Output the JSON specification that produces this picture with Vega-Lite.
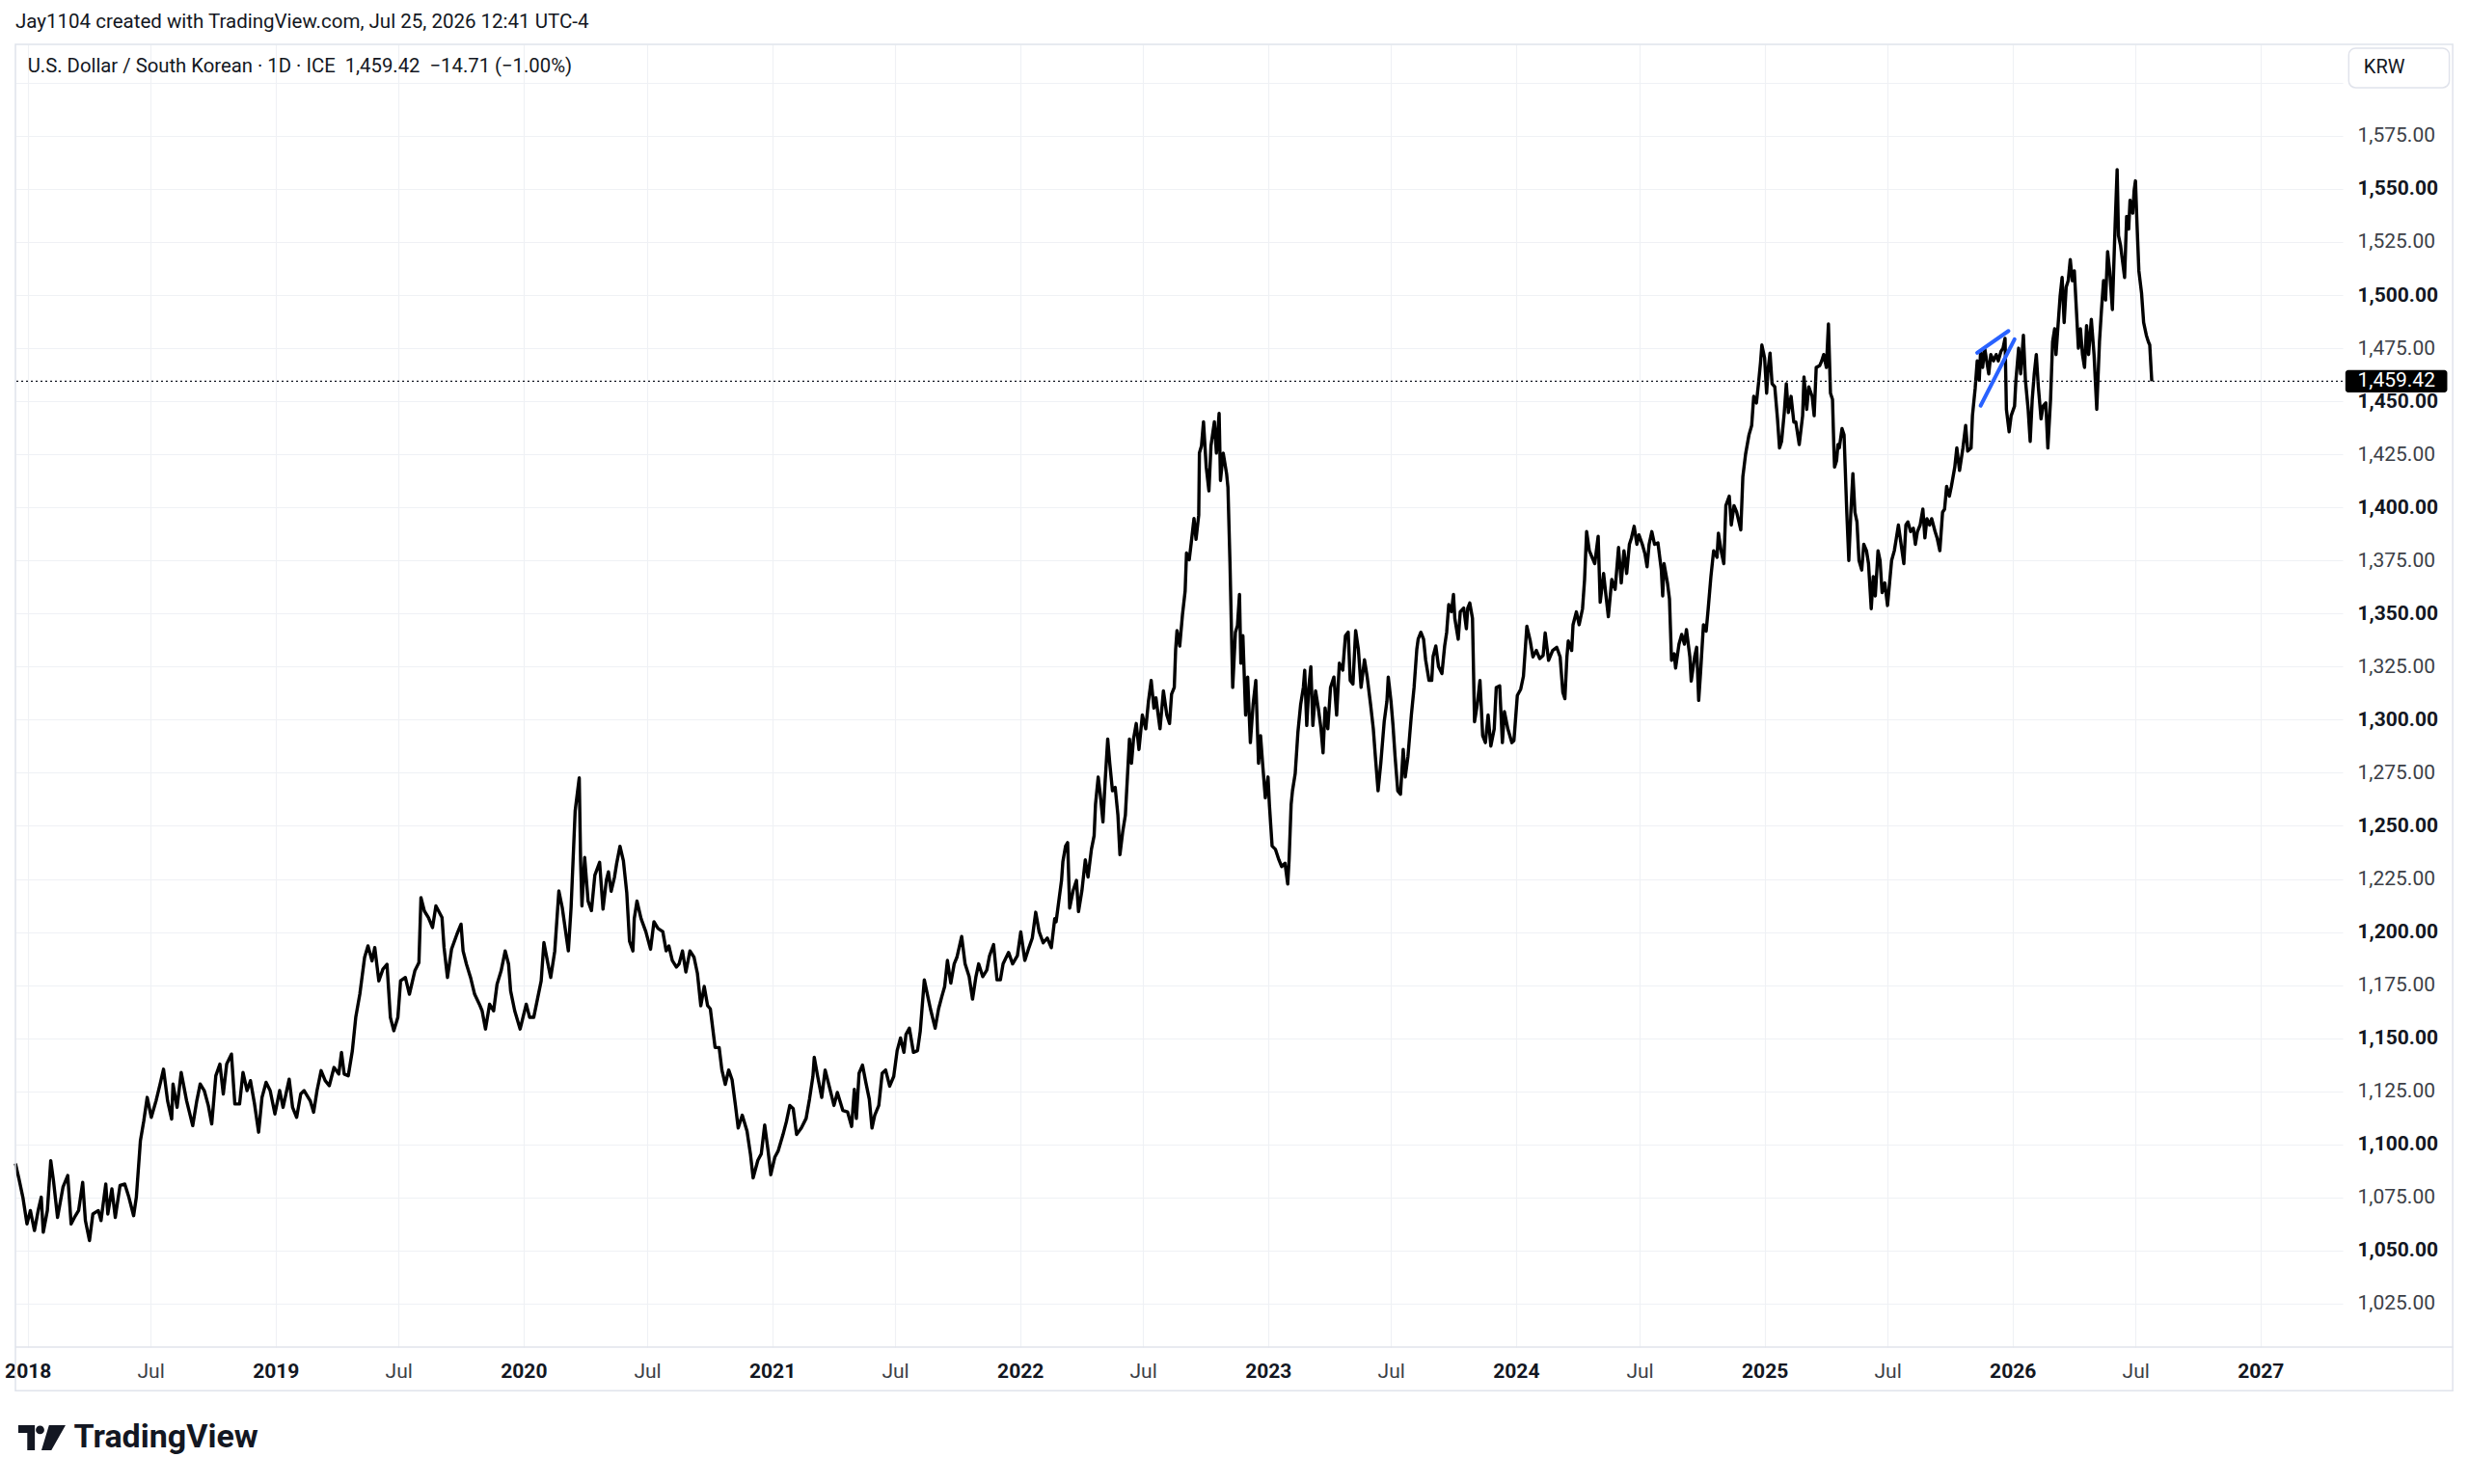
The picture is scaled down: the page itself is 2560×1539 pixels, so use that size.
{
  "$schema": "https://vega.github.io/schema/vega-lite/v6.json",
  "width": 2413,
  "height": 1351,
  "autosize": {"type": "none"},
  "padding": {"left": 16, "top": 46, "right": 131, "bottom": 142},
  "background": "white",
  "title": {
    "text": "Jay1104 created with TradingView.com, Jul 25, 2026 12:41 UTC-4",
    "anchor": "start",
    "frame": "group",
    "font": "Roboto",
    "fontSize": 20.5,
    "fontWeight": "normal",
    "color": "#131722",
    "offset": 12
  },
  "config": {
    "view": {"stroke": null},
    "font": "Roboto"
  },
  "datasets": {
    "fx": [
      {"d":"2017-12-14","v":1091},{"d":"2017-12-19","v":1084},{"d":"2017-12-25","v":1075},{"d":"2017-12-31","v":1062.5},
      {"d":"2018-01-05","v":1068.8},{"d":"2018-01-11","v":1059.4},{"d":"2018-01-17","v":1069.6},{"d":"2018-01-21","v":1075.1},
      {"d":"2018-01-24","v":1058.6},{"d":"2018-01-30","v":1068.8},{"d":"2018-02-04","v":1092.3},{"d":"2018-02-08","v":1082.9},
      {"d":"2018-02-14","v":1065.6},{"d":"2018-02-22","v":1079.8},{"d":"2018-03-01","v":1085.3},{"d":"2018-03-06","v":1062.5},
      {"d":"2018-03-11","v":1065.6},{"d":"2018-03-17","v":1068.8},{"d":"2018-03-23","v":1082.1},{"d":"2018-03-27","v":1064.1},
      {"d":"2018-04-02","v":1054.7},{"d":"2018-04-07","v":1067.2},{"d":"2018-04-15","v":1068.8},{"d":"2018-04-19","v":1064.1},
      {"d":"2018-04-26","v":1081.3},{"d":"2018-04-29","v":1067.2},{"d":"2018-05-05","v":1079},{"d":"2018-05-10","v":1065.6},
      {"d":"2018-05-17","v":1080.6},{"d":"2018-05-24","v":1081.3},{"d":"2018-05-30","v":1075.1},{"d":"2018-06-06","v":1066.4},
      {"d":"2018-06-10","v":1075.1},{"d":"2018-06-16","v":1101.7},{"d":"2018-06-21","v":1111.1},{"d":"2018-06-26","v":1122.1},
      {"d":"2018-07-02","v":1112.7},{"d":"2018-07-09","v":1120.5},{"d":"2018-07-15","v":1128.4},{"d":"2018-07-20","v":1135.4},
      {"d":"2018-07-26","v":1120.5},{"d":"2018-08-01","v":1111.9},{"d":"2018-08-03","v":1128.4},{"d":"2018-08-09","v":1117.4},
      {"d":"2018-08-15","v":1133.9},{"d":"2018-08-23","v":1120.5},{"d":"2018-09-01","v":1108.8},{"d":"2018-09-07","v":1120.5},
      {"d":"2018-09-12","v":1128.4},{"d":"2018-09-18","v":1125.3},{"d":"2018-09-24","v":1118.2},{"d":"2018-09-29","v":1109.6},
      {"d":"2018-10-05","v":1132.3},{"d":"2018-10-11","v":1137.8},{"d":"2018-10-16","v":1123.7},{"d":"2018-10-21","v":1137.8},
      {"d":"2018-10-28","v":1142.5},{"d":"2018-11-02","v":1119},{"d":"2018-11-09","v":1119},{"d":"2018-11-14","v":1133.9},
      {"d":"2018-11-20","v":1125.3},{"d":"2018-11-25","v":1130},{"d":"2018-12-01","v":1119},{"d":"2018-12-07","v":1105.7},
      {"d":"2018-12-12","v":1122.1},{"d":"2018-12-18","v":1129.2},{"d":"2018-12-24","v":1125.3},{"d":"2018-12-31","v":1114.3},
      {"d":"2019-01-07","v":1125.3},{"d":"2019-01-12","v":1117.4},{"d":"2019-01-21","v":1130.7},{"d":"2019-01-26","v":1117.4},
      {"d":"2019-02-01","v":1112.7},{"d":"2019-02-07","v":1123.7},{"d":"2019-02-12","v":1125.3},{"d":"2019-02-21","v":1120.5},
      {"d":"2019-02-26","v":1115.1},{"d":"2019-03-03","v":1125.3},{"d":"2019-03-09","v":1134.7},{"d":"2019-03-15","v":1130},
      {"d":"2019-03-21","v":1127.6},{"d":"2019-03-28","v":1136.2},{"d":"2019-04-04","v":1133.1},{"d":"2019-04-08","v":1143.3},
      {"d":"2019-04-12","v":1133.1},{"d":"2019-04-18","v":1132.3},{"d":"2019-04-24","v":1144.1},{"d":"2019-04-29","v":1159.8},
      {"d":"2019-05-05","v":1170.7},{"d":"2019-05-12","v":1188},{"d":"2019-05-17","v":1193.5},{"d":"2019-05-23","v":1186.4},
      {"d":"2019-05-27","v":1192.7},{"d":"2019-06-02","v":1177},{"d":"2019-06-08","v":1182.5},{"d":"2019-06-14","v":1184.8},
      {"d":"2019-06-19","v":1159.8},{"d":"2019-06-24","v":1153.5},{"d":"2019-06-30","v":1159.8},{"d":"2019-07-04","v":1177},
      {"d":"2019-07-11","v":1178.6},{"d":"2019-07-17","v":1170.7},{"d":"2019-07-25","v":1181.7},{"d":"2019-07-31","v":1185.6},
      {"d":"2019-08-03","v":1216.2},{"d":"2019-08-08","v":1209.9},{"d":"2019-08-14","v":1206.8},{"d":"2019-08-20","v":1202.1},
      {"d":"2019-08-25","v":1212.3},{"d":"2019-09-03","v":1206.8},{"d":"2019-09-06","v":1192.7},{"d":"2019-09-11","v":1178.6},
      {"d":"2019-09-17","v":1191.9},{"d":"2019-09-25","v":1199},{"d":"2019-10-01","v":1203.7},{"d":"2019-10-04","v":1191.1},
      {"d":"2019-10-09","v":1184.8},{"d":"2019-10-15","v":1178.6},{"d":"2019-10-21","v":1170.7},{"d":"2019-10-28","v":1166},
      {"d":"2019-11-01","v":1162.9},{"d":"2019-11-06","v":1154.3},{"d":"2019-11-12","v":1166},{"d":"2019-11-18","v":1162.9},
      {"d":"2019-11-23","v":1175.4},{"d":"2019-11-29","v":1181.7},{"d":"2019-12-05","v":1191.1},{"d":"2019-12-10","v":1184.8},
      {"d":"2019-12-13","v":1172.3},{"d":"2019-12-19","v":1162.9},{"d":"2019-12-27","v":1154.3},{"d":"2020-01-05","v":1166},
      {"d":"2020-01-10","v":1159.8},{"d":"2020-01-16","v":1159.8},{"d":"2020-01-22","v":1169.2},{"d":"2020-01-27","v":1177},
      {"d":"2020-01-31","v":1195},{"d":"2020-02-07","v":1183.3},{"d":"2020-02-10","v":1178.6},{"d":"2020-02-16","v":1191.1},
      {"d":"2020-02-22","v":1219.3},{"d":"2020-02-27","v":1211.5},{"d":"2020-03-07","v":1191.1},{"d":"2020-03-11","v":1211.5},
      {"d":"2020-03-17","v":1257},{"d":"2020-03-23","v":1272.6},{"d":"2020-03-25","v":1233.6},{"d":"2020-03-27","v":1212.3},
      {"d":"2020-03-31","v":1235.1},{"d":"2020-04-05","v":1214.6},{"d":"2020-04-10","v":1210.1},{"d":"2020-04-15","v":1226.8},
      {"d":"2020-04-22","v":1232.8},{"d":"2020-04-27","v":1210.8},{"d":"2020-05-02","v":1224.5},{"d":"2020-05-05","v":1228.3},
      {"d":"2020-05-09","v":1219.2},{"d":"2020-05-14","v":1226},{"d":"2020-05-17","v":1232.1},{"d":"2020-05-22","v":1240.4},
      {"d":"2020-05-27","v":1233.6},{"d":"2020-06-01","v":1218.4},{"d":"2020-06-05","v":1195.7},{"d":"2020-06-10","v":1191.1},
      {"d":"2020-06-12","v":1206.3},{"d":"2020-06-16","v":1214.6},{"d":"2020-06-22","v":1206.3},{"d":"2020-06-29","v":1200.2},
      {"d":"2020-07-06","v":1191.9},{"d":"2020-07-11","v":1204.8},{"d":"2020-07-17","v":1201.7},{"d":"2020-07-24","v":1200.2},
      {"d":"2020-07-29","v":1191.1},{"d":"2020-08-02","v":1193.4},{"d":"2020-08-07","v":1186.6},{"d":"2020-08-13","v":1183.5},
      {"d":"2020-08-17","v":1185},{"d":"2020-08-22","v":1191.1},{"d":"2020-08-27","v":1181.2},{"d":"2020-09-02","v":1191.1},
      {"d":"2020-09-08","v":1188.1},{"d":"2020-09-13","v":1180.5},{"d":"2020-09-18","v":1165.3},{"d":"2020-09-23","v":1174.4},
      {"d":"2020-09-28","v":1165.3},{"d":"2020-10-02","v":1163.8},{"d":"2020-10-09","v":1145.6},{"d":"2020-10-15","v":1145.6},
      {"d":"2020-10-19","v":1135},{"d":"2020-10-24","v":1128.2},{"d":"2020-10-29","v":1135},{"d":"2020-11-03","v":1130.4},
      {"d":"2020-11-08","v":1118.3},{"d":"2020-11-12","v":1107.7},{"d":"2020-11-18","v":1113.7},{"d":"2020-11-25","v":1106.2},
      {"d":"2020-11-30","v":1095.5},{"d":"2020-12-04","v":1084.2},{"d":"2020-12-11","v":1092.5},{"d":"2020-12-16","v":1095.5},
      {"d":"2020-12-21","v":1109.1},{"d":"2020-12-26","v":1097},{"d":"2020-12-30","v":1085.7},{"d":"2021-01-05","v":1094},
      {"d":"2021-01-10","v":1097},{"d":"2021-01-17","v":1104.6},{"d":"2021-01-22","v":1110.7},{"d":"2021-01-27","v":1118.3},
      {"d":"2021-02-01","v":1116.8},{"d":"2021-02-06","v":1104.6},{"d":"2021-02-13","v":1107.7},{"d":"2021-02-20","v":1112.2},
      {"d":"2021-02-25","v":1121.3},{"d":"2021-03-02","v":1132},{"d":"2021-03-04","v":1141},{"d":"2021-03-09","v":1132},
      {"d":"2021-03-15","v":1122.1},{"d":"2021-03-20","v":1135},{"d":"2021-03-26","v":1127.4},{"d":"2021-04-02","v":1118.3},
      {"d":"2021-04-07","v":1124.4},{"d":"2021-04-15","v":1116},{"d":"2021-04-22","v":1115.3},{"d":"2021-04-28","v":1108.4},
      {"d":"2021-05-02","v":1125.9},{"d":"2021-05-05","v":1112.2},{"d":"2021-05-09","v":1133.5},{"d":"2021-05-14","v":1137.3},
      {"d":"2021-05-19","v":1129},{"d":"2021-05-24","v":1121.3},{"d":"2021-05-28","v":1107.7},{"d":"2021-06-01","v":1113.7},
      {"d":"2021-06-07","v":1118.3},{"d":"2021-06-12","v":1133.5},{"d":"2021-06-17","v":1135},{"d":"2021-06-23","v":1127.4},
      {"d":"2021-06-29","v":1132},{"d":"2021-07-04","v":1144.1},{"d":"2021-07-09","v":1150.1},{"d":"2021-07-14","v":1143.3},
      {"d":"2021-07-17","v":1151.7},{"d":"2021-07-22","v":1154.7},{"d":"2021-07-28","v":1143.3},{"d":"2021-08-03","v":1144.1},
      {"d":"2021-08-07","v":1153.2},{"d":"2021-08-13","v":1177.5},{"d":"2021-08-18","v":1169.9},{"d":"2021-08-22","v":1163.8},
      {"d":"2021-08-29","v":1154.7},{"d":"2021-09-03","v":1163.8},{"d":"2021-09-08","v":1169.9},{"d":"2021-09-12","v":1174.4},
      {"d":"2021-09-16","v":1186.6},{"d":"2021-09-21","v":1175.9},{"d":"2021-09-26","v":1185},{"d":"2021-09-30","v":1188.1},
      {"d":"2021-10-07","v":1197.9},{"d":"2021-10-12","v":1185},{"d":"2021-10-18","v":1179},{"d":"2021-10-23","v":1168.4},
      {"d":"2021-10-28","v":1179},{"d":"2021-11-01","v":1185},{"d":"2021-11-07","v":1179},{"d":"2021-11-13","v":1182},
      {"d":"2021-11-17","v":1188.8},{"d":"2021-11-23","v":1194.1},{"d":"2021-11-28","v":1177.5},{"d":"2021-12-03","v":1177.5},
      {"d":"2021-12-07","v":1185},{"d":"2021-12-15","v":1190.4},{"d":"2021-12-21","v":1185},{"d":"2021-12-28","v":1188.8},
      {"d":"2022-01-02","v":1200},{"d":"2022-01-08","v":1186.6},{"d":"2022-01-14","v":1192.6},{"d":"2022-01-19","v":1197.2},
      {"d":"2022-01-24","v":1209.3},{"d":"2022-01-29","v":1200.2},{"d":"2022-02-04","v":1194.9},{"d":"2022-02-10","v":1197.2},
      {"d":"2022-02-16","v":1192.6},{"d":"2022-02-21","v":1206.3},{"d":"2022-02-23","v":1204.8},{"d":"2022-03-03","v":1224.3},
      {"d":"2022-03-05","v":1233.2},{"d":"2022-03-09","v":1240.5},{"d":"2022-03-12","v":1242.1},{"d":"2022-03-15","v":1211.3},
      {"d":"2022-03-20","v":1219.4},{"d":"2022-03-25","v":1224.3},{"d":"2022-03-28","v":1209.6},{"d":"2022-04-02","v":1219.4},
      {"d":"2022-04-07","v":1234},{"d":"2022-04-11","v":1225.9},{"d":"2022-04-16","v":1238.9},{"d":"2022-04-20","v":1245.4},
      {"d":"2022-04-22","v":1260},{"d":"2022-04-26","v":1273},{"d":"2022-04-29","v":1264.9},{"d":"2022-05-03","v":1251.9},
      {"d":"2022-05-06","v":1269.8},{"d":"2022-05-10","v":1290.9},{"d":"2022-05-13","v":1279.5},{"d":"2022-05-17","v":1266.5},
      {"d":"2022-05-21","v":1268.1},{"d":"2022-05-25","v":1255.1},{"d":"2022-05-28","v":1236.4},{"d":"2022-06-01","v":1247},
      {"d":"2022-06-05","v":1255.1},{"d":"2022-06-08","v":1273},{"d":"2022-06-11","v":1290.9},{"d":"2022-06-14","v":1279.5},
      {"d":"2022-06-17","v":1290.9},{"d":"2022-06-21","v":1298.2},{"d":"2022-06-25","v":1286},{"d":"2022-06-30","v":1302.2},
      {"d":"2022-07-05","v":1295.7},{"d":"2022-07-09","v":1308.7},{"d":"2022-07-13","v":1318.5},{"d":"2022-07-17","v":1305.5},
      {"d":"2022-07-20","v":1310.3},{"d":"2022-07-26","v":1295.7},{"d":"2022-07-31","v":1313.6},{"d":"2022-08-05","v":1302.2},
      {"d":"2022-08-09","v":1298.2},{"d":"2022-08-12","v":1312},{"d":"2022-08-16","v":1315.2},{"d":"2022-08-18","v":1333.1},
      {"d":"2022-08-20","v":1342},{"d":"2022-08-24","v":1334.7},{"d":"2022-08-28","v":1349.3},{"d":"2022-09-01","v":1360.7},
      {"d":"2022-09-03","v":1378.5},{"d":"2022-09-07","v":1375.3},{"d":"2022-09-10","v":1383.4},{"d":"2022-09-14","v":1394.8},
      {"d":"2022-09-17","v":1385},{"d":"2022-09-21","v":1396.4},{"d":"2022-09-22","v":1425.6},{"d":"2022-09-25","v":1428.9},
      {"d":"2022-09-28","v":1440.3},{"d":"2022-10-02","v":1419.1},{"d":"2022-10-06","v":1407.8},{"d":"2022-10-09","v":1428.9},
      {"d":"2022-10-14","v":1440.3},{"d":"2022-10-17","v":1425.6},{"d":"2022-10-21","v":1444.3},{"d":"2022-10-23","v":1412.7},
      {"d":"2022-10-27","v":1425.6},{"d":"2022-11-01","v":1415.9},{"d":"2022-11-03","v":1409.4},{"d":"2022-11-06","v":1373.7},
      {"d":"2022-11-10","v":1315.2},{"d":"2022-11-14","v":1341.2},{"d":"2022-11-17","v":1344.4},{"d":"2022-11-20","v":1359},
      {"d":"2022-11-22","v":1326.6},{"d":"2022-11-25","v":1339.6},{"d":"2022-11-29","v":1302.2},{"d":"2022-12-02","v":1320.1},
      {"d":"2022-12-06","v":1289.2},{"d":"2022-12-10","v":1307.1},{"d":"2022-12-14","v":1318.5},{"d":"2022-12-18","v":1279.5},
      {"d":"2022-12-21","v":1292.5},{"d":"2022-12-24","v":1279.5},{"d":"2022-12-28","v":1263.2},{"d":"2023-01-01","v":1273},
      {"d":"2023-01-03","v":1260},{"d":"2023-01-07","v":1240.5},{"d":"2023-01-12","v":1238.9},{"d":"2023-01-17","v":1234},
      {"d":"2023-01-21","v":1230.8},{"d":"2023-01-26","v":1232.4},{"d":"2023-01-30","v":1222.6},{"d":"2023-02-01","v":1234},
      {"d":"2023-02-04","v":1260},{"d":"2023-02-06","v":1266.5},{"d":"2023-02-10","v":1274.6},{"d":"2023-02-14","v":1294.1},
      {"d":"2023-02-18","v":1307.1},{"d":"2023-02-22","v":1315.2},{"d":"2023-02-24","v":1323.3},{"d":"2023-02-27","v":1297.3},
      {"d":"2023-03-02","v":1315.2},{"d":"2023-03-05","v":1325},{"d":"2023-03-08","v":1297.3},{"d":"2023-03-12","v":1313.6},
      {"d":"2023-03-16","v":1305.5},{"d":"2023-03-20","v":1295.7},{"d":"2023-03-23","v":1284.4},{"d":"2023-03-26","v":1305.5},
      {"d":"2023-03-30","v":1295.7},{"d":"2023-04-03","v":1315.2},{"d":"2023-04-08","v":1320.1},{"d":"2023-04-12","v":1302.2},
      {"d":"2023-04-16","v":1326.6},{"d":"2023-04-21","v":1323.3},{"d":"2023-04-25","v":1339.6},{"d":"2023-04-29","v":1341.2},
      {"d":"2023-05-02","v":1318.5},{"d":"2023-05-06","v":1316.8},{"d":"2023-05-10","v":1342},{"d":"2023-05-14","v":1333.1},
      {"d":"2023-05-18","v":1315.2},{"d":"2023-05-23","v":1328.2},{"d":"2023-05-27","v":1320.1},{"d":"2023-06-01","v":1307.1},
      {"d":"2023-06-05","v":1295.7},{"d":"2023-06-08","v":1282.7},{"d":"2023-06-12","v":1266.5},{"d":"2023-06-16","v":1279.5},
      {"d":"2023-06-21","v":1299},{"d":"2023-06-25","v":1308.7},{"d":"2023-06-27","v":1320.1},{"d":"2023-07-01","v":1308.7},
      {"d":"2023-07-04","v":1297.3},{"d":"2023-07-07","v":1282.7},{"d":"2023-07-11","v":1266.5},{"d":"2023-07-15","v":1264.9},
      {"d":"2023-07-19","v":1286},{"d":"2023-07-22","v":1273},{"d":"2023-07-26","v":1282.7},{"d":"2023-07-31","v":1302.2},
      {"d":"2023-08-04","v":1315.2},{"d":"2023-08-08","v":1333.1},{"d":"2023-08-10","v":1337.9},{"d":"2023-08-14","v":1341.2},
      {"d":"2023-08-18","v":1337.9},{"d":"2023-08-21","v":1328.2},{"d":"2023-08-26","v":1318.5},{"d":"2023-08-30","v":1318.5},
      {"d":"2023-09-01","v":1329.8},{"d":"2023-09-05","v":1334.7},{"d":"2023-09-09","v":1325},{"d":"2023-09-14","v":1321.7},
      {"d":"2023-09-18","v":1334.7},{"d":"2023-09-21","v":1341.2},{"d":"2023-09-24","v":1354.2},{"d":"2023-09-28","v":1350.9},
      {"d":"2023-10-01","v":1359},{"d":"2023-10-03","v":1347.7},{"d":"2023-10-08","v":1337.9},{"d":"2023-10-11","v":1350.9},
      {"d":"2023-10-16","v":1352.6},{"d":"2023-10-20","v":1342.8},{"d":"2023-10-22","v":1352.6},{"d":"2023-10-25","v":1355},
      {"d":"2023-10-29","v":1347.7},{"d":"2023-11-01","v":1299},{"d":"2023-11-05","v":1307.1},{"d":"2023-11-09","v":1318.5},
      {"d":"2023-11-13","v":1292.5},{"d":"2023-11-17","v":1289.2},{"d":"2023-11-21","v":1302.2},{"d":"2023-11-25","v":1287.6},
      {"d":"2023-11-30","v":1295.7},{"d":"2023-12-03","v":1315.2},{"d":"2023-12-08","v":1316},{"d":"2023-12-12","v":1289.2},
      {"d":"2023-12-15","v":1303.8},{"d":"2023-12-20","v":1295.7},{"d":"2023-12-26","v":1289.2},{"d":"2023-12-29","v":1290.2},
      {"d":"2024-01-03","v":1311.4},{"d":"2024-01-08","v":1314.4},{"d":"2024-01-12","v":1320.5},{"d":"2024-01-17","v":1344},
      {"d":"2024-01-22","v":1337.1},{"d":"2024-01-26","v":1329.6},{"d":"2024-01-31","v":1332.6},{"d":"2024-02-05","v":1328.8},
      {"d":"2024-02-10","v":1330.3},{"d":"2024-02-13","v":1340.9},{"d":"2024-02-18","v":1328},{"d":"2024-02-24","v":1332.6},
      {"d":"2024-03-01","v":1334.1},{"d":"2024-03-06","v":1329.6},{"d":"2024-03-10","v":1312.9},{"d":"2024-03-13","v":1309.9},
      {"d":"2024-03-16","v":1329.6},{"d":"2024-03-18","v":1337.1},{"d":"2024-03-23","v":1332.6},{"d":"2024-03-25","v":1344.7},
      {"d":"2024-03-30","v":1350.8},{"d":"2024-04-03","v":1344.7},{"d":"2024-04-08","v":1352.3},{"d":"2024-04-11","v":1366},
      {"d":"2024-04-14","v":1388.6},{"d":"2024-04-18","v":1379.6},{"d":"2024-04-22","v":1376.5},{"d":"2024-04-26","v":1373.5},
      {"d":"2024-05-01","v":1386.4},{"d":"2024-05-04","v":1355.3},{"d":"2024-05-09","v":1368.9},{"d":"2024-05-12","v":1359.9},
      {"d":"2024-05-16","v":1348.5},{"d":"2024-05-21","v":1366},{"d":"2024-05-26","v":1361.4},{"d":"2024-05-31","v":1381.1},
      {"d":"2024-06-04","v":1364.4},{"d":"2024-06-08","v":1379.6},{"d":"2024-06-12","v":1368.9},{"d":"2024-06-16","v":1382.6},
      {"d":"2024-06-19","v":1385.6},{"d":"2024-06-23","v":1391.1},{"d":"2024-06-27","v":1382.6},{"d":"2024-06-30","v":1387.1},
      {"d":"2024-07-05","v":1382.6},{"d":"2024-07-09","v":1378},{"d":"2024-07-12","v":1372},{"d":"2024-07-15","v":1382.6},
      {"d":"2024-07-19","v":1388.6},{"d":"2024-07-23","v":1382.6},{"d":"2024-07-28","v":1383.3},{"d":"2024-08-02","v":1370.5},
      {"d":"2024-08-04","v":1358.3},{"d":"2024-08-06","v":1373.5},{"d":"2024-08-11","v":1364.4},{"d":"2024-08-14","v":1356.8},
      {"d":"2024-08-17","v":1328},{"d":"2024-08-21","v":1331},{"d":"2024-08-23","v":1324.3},{"d":"2024-08-28","v":1335.6},
      {"d":"2024-09-01","v":1340.2},{"d":"2024-09-05","v":1335.6},{"d":"2024-09-08","v":1342.4},{"d":"2024-09-13","v":1329.6},
      {"d":"2024-09-15","v":1318.2},{"d":"2024-09-20","v":1329.6},{"d":"2024-09-23","v":1334.1},{"d":"2024-09-26","v":1309.1},
      {"d":"2024-09-29","v":1323.5},{"d":"2024-10-03","v":1344.7},{"d":"2024-10-07","v":1341.7},{"d":"2024-10-10","v":1352.3},
      {"d":"2024-10-14","v":1367.4},{"d":"2024-10-18","v":1379.6},{"d":"2024-10-23","v":1376.5},{"d":"2024-10-25","v":1387.9},
      {"d":"2024-10-29","v":1379.6},{"d":"2024-11-02","v":1373.5},{"d":"2024-11-05","v":1400.8},{"d":"2024-11-10","v":1405.3},
      {"d":"2024-11-13","v":1391.7},{"d":"2024-11-17","v":1400.8},{"d":"2024-11-21","v":1397.7},{"d":"2024-11-27","v":1389.4},
      {"d":"2024-11-30","v":1414.4},{"d":"2024-12-04","v":1425},{"d":"2024-12-09","v":1434.1},{"d":"2024-12-13","v":1438.6},
      {"d":"2024-12-16","v":1452.3},{"d":"2024-12-20","v":1449.2},{"d":"2024-12-23","v":1458.3},{"d":"2024-12-26","v":1468.2},
      {"d":"2024-12-28","v":1476.5},{"d":"2025-01-01","v":1470.5},{"d":"2025-01-04","v":1453.8},{"d":"2025-01-06","v":1464.4},
      {"d":"2025-01-09","v":1472.7},{"d":"2025-01-12","v":1458.3},{"d":"2025-01-16","v":1456.8},{"d":"2025-01-20","v":1441.7},
      {"d":"2025-01-23","v":1428},{"d":"2025-01-26","v":1431.1},{"d":"2025-01-30","v":1444.7},{"d":"2025-02-02","v":1458.3},
      {"d":"2025-02-05","v":1444.7},{"d":"2025-02-09","v":1452.3},{"d":"2025-02-13","v":1440.2},{"d":"2025-02-16","v":1440.2},
      {"d":"2025-02-21","v":1429.6},{"d":"2025-02-26","v":1443.2},{"d":"2025-02-28","v":1461.4},{"d":"2025-03-04","v":1446.2},
      {"d":"2025-03-07","v":1456.8},{"d":"2025-03-12","v":1452.3},{"d":"2025-03-15","v":1443.2},{"d":"2025-03-18","v":1465.9},
      {"d":"2025-03-23","v":1466.7},{"d":"2025-03-26","v":1468.9},{"d":"2025-03-29","v":1472},{"d":"2025-04-02","v":1465.9},
      {"d":"2025-04-05","v":1486.4},{"d":"2025-04-08","v":1453.8},{"d":"2025-04-11","v":1450.8},{"d":"2025-04-13","v":1428},
      {"d":"2025-04-14","v":1419},{"d":"2025-04-17","v":1422},{"d":"2025-04-19","v":1429.6},{"d":"2025-04-21","v":1428},
      {"d":"2025-04-25","v":1437.1},{"d":"2025-04-28","v":1434.1},{"d":"2025-05-02","v":1397.7},{"d":"2025-05-05","v":1375},
      {"d":"2025-05-08","v":1397.7},{"d":"2025-05-11","v":1415.9},{"d":"2025-05-14","v":1397.7},{"d":"2025-05-17","v":1393.2},
      {"d":"2025-05-20","v":1375},{"d":"2025-05-24","v":1370.5},{"d":"2025-05-27","v":1382.6},{"d":"2025-05-31","v":1379.6},
      {"d":"2025-06-03","v":1373.5},{"d":"2025-06-07","v":1352.3},{"d":"2025-06-10","v":1367.4},{"d":"2025-06-13","v":1358.3},
      {"d":"2025-06-17","v":1379.6},{"d":"2025-06-20","v":1375},{"d":"2025-06-23","v":1359.9},{"d":"2025-06-27","v":1364.4},
      {"d":"2025-07-01","v":1353.8},{"d":"2025-07-04","v":1364.4},{"d":"2025-07-07","v":1375},{"d":"2025-07-11","v":1379.6},
      {"d":"2025-07-14","v":1385.6},{"d":"2025-07-17","v":1391.7},{"d":"2025-07-21","v":1382.6},{"d":"2025-07-25","v":1373.5},
      {"d":"2025-07-28","v":1391.7},{"d":"2025-07-31","v":1393.2},{"d":"2025-08-04","v":1388.6},{"d":"2025-08-08","v":1390.2},
      {"d":"2025-08-11","v":1382.6},{"d":"2025-08-14","v":1388.6},{"d":"2025-08-18","v":1391.7},{"d":"2025-08-22","v":1399.2},
      {"d":"2025-08-25","v":1385.6},{"d":"2025-08-28","v":1394.7},{"d":"2025-09-01","v":1391.7},{"d":"2025-09-04","v":1394.7},
      {"d":"2025-09-09","v":1388.6},{"d":"2025-09-12","v":1385.6},{"d":"2025-09-16","v":1379.6},{"d":"2025-09-20","v":1397.7},
      {"d":"2025-09-23","v":1399.2},{"d":"2025-09-26","v":1409.9},{"d":"2025-09-30","v":1405.3},{"d":"2025-10-03","v":1409.9},
      {"d":"2025-10-08","v":1419},{"d":"2025-10-11","v":1428},{"d":"2025-10-15","v":1417.4},{"d":"2025-10-20","v":1428},
      {"d":"2025-10-24","v":1438.6},{"d":"2025-10-27","v":1426.5},{"d":"2025-11-01","v":1428},{"d":"2025-11-03","v":1443.2},
      {"d":"2025-11-07","v":1456},{"d":"2025-11-10","v":1469},{"d":"2025-11-13","v":1459.9},{"d":"2025-11-15","v":1473.5},
      {"d":"2025-11-18","v":1465.9},{"d":"2025-11-21","v":1475},{"d":"2025-11-24","v":1469},{"d":"2025-11-27","v":1462.9},
      {"d":"2025-11-30","v":1472},{"d":"2025-12-04","v":1469},{"d":"2025-12-08","v":1472},{"d":"2025-12-11","v":1469},
      {"d":"2025-12-15","v":1473.5},{"d":"2025-12-18","v":1475},{"d":"2025-12-21","v":1479.6},{"d":"2025-12-23","v":1446.2},
      {"d":"2025-12-27","v":1435.6},{"d":"2025-12-30","v":1443.2},{"d":"2026-01-04","v":1447.7},{"d":"2026-01-06","v":1459.9},
      {"d":"2026-01-10","v":1475},{"d":"2026-01-13","v":1462.9},{"d":"2026-01-17","v":1481.1},{"d":"2026-01-20","v":1459.9},
      {"d":"2026-01-24","v":1446.2},{"d":"2026-01-27","v":1431.1},{"d":"2026-01-30","v":1450.8},{"d":"2026-02-02","v":1462.9},
      {"d":"2026-02-05","v":1472},{"d":"2026-02-08","v":1456.8},{"d":"2026-02-12","v":1441.7},{"d":"2026-02-15","v":1447.7},
      {"d":"2026-02-19","v":1449.2},{"d":"2026-02-22","v":1428},{"d":"2026-02-26","v":1450.8},{"d":"2026-03-01","v":1478},
      {"d":"2026-03-04","v":1484.1},{"d":"2026-03-06","v":1472},{"d":"2026-03-09","v":1485.6},{"d":"2026-03-12","v":1499.2},
      {"d":"2026-03-15","v":1508.3},{"d":"2026-03-18","v":1487.1},{"d":"2026-03-21","v":1503.8},{"d":"2026-03-24","v":1506.8},
      {"d":"2026-03-27","v":1516.7},{"d":"2026-03-30","v":1506.8},{"d":"2026-04-02","v":1511.4},{"d":"2026-04-05","v":1493.2},
      {"d":"2026-04-08","v":1475},{"d":"2026-04-11","v":1484.1},{"d":"2026-04-14","v":1472},{"d":"2026-04-17","v":1465.9},
      {"d":"2026-04-20","v":1485.6},{"d":"2026-04-23","v":1472},{"d":"2026-04-27","v":1488.6},{"d":"2026-05-01","v":1472},
      {"d":"2026-05-05","v":1446.2},{"d":"2026-05-09","v":1478},{"d":"2026-05-12","v":1493.2},{"d":"2026-05-15","v":1506.8},
      {"d":"2026-05-18","v":1497.7},{"d":"2026-05-21","v":1520.5},{"d":"2026-05-24","v":1511.4},{"d":"2026-05-28","v":1493.2},
      {"d":"2026-06-01","v":1532.6},{"d":"2026-06-04","v":1559.1},{"d":"2026-06-06","v":1528},{"d":"2026-06-09","v":1523.5},
      {"d":"2026-06-12","v":1515.9},{"d":"2026-06-15","v":1508.3},{"d":"2026-06-18","v":1537.1},{"d":"2026-06-21","v":1531.1},
      {"d":"2026-06-23","v":1544.7},{"d":"2026-06-27","v":1538.6},{"d":"2026-06-29","v":1549.2},{"d":"2026-07-01","v":1553.8},
      {"d":"2026-07-03","v":1535.6},{"d":"2026-07-06","v":1511.4},{"d":"2026-07-10","v":1500.8},{"d":"2026-07-13","v":1487.1},
      {"d":"2026-07-17","v":1481.1},{"d":"2026-07-20","v":1478},{"d":"2026-07-22","v":1476.5},{"d":"2026-07-25","v":1459.42}
    ],
    "trend": [
      {"seg": "a", "d": "2025-11-10", "v": 1472.8},
      {"seg": "a", "d": "2025-12-26", "v": 1483.1},
      {"seg": "b", "d": "2025-11-15", "v": 1447.9},
      {"seg": "b", "d": "2026-01-04", "v": 1479.2}
    ]
  },
  "layer": [
    {
      "data": {"name": "fx"},
      "mark": {"type": "line", "color": "#000000", "strokeWidth": 3.4, "strokeJoin": "round"},
      "encoding": {
        "x": {
          "field": "d",
          "type": "temporal",
          "title": null,
          "scale": {
            "domain": [{"year": 2017, "month": 12, "date": 14}, {"year": 2027, "month": 5, "date": 2}],
            "nice": false
          },
          "axis": {
            "values": [
              {"year": 2018, "month": 1, "date": 1}, {"year": 2018, "month": 7, "date": 1},
              {"year": 2019, "month": 1, "date": 1}, {"year": 2019, "month": 7, "date": 1},
              {"year": 2020, "month": 1, "date": 1}, {"year": 2020, "month": 7, "date": 1},
              {"year": 2021, "month": 1, "date": 1}, {"year": 2021, "month": 7, "date": 1},
              {"year": 2022, "month": 1, "date": 1}, {"year": 2022, "month": 7, "date": 1},
              {"year": 2023, "month": 1, "date": 1}, {"year": 2023, "month": 7, "date": 1},
              {"year": 2024, "month": 1, "date": 1}, {"year": 2024, "month": 7, "date": 1},
              {"year": 2025, "month": 1, "date": 1}, {"year": 2025, "month": 7, "date": 1},
              {"year": 2026, "month": 1, "date": 1}, {"year": 2026, "month": 7, "date": 1},
              {"year": 2027, "month": 1, "date": 1}
            ],
            "labelExpr": "month(datum.value) == 0 ? timeFormat(datum.value, '%Y') : 'Jul'",
            "labelFontWeight": {"condition": {"test": "month(datum.value) == 0", "value": "bold"}, "value": "normal"},
            "labelColor": {"condition": {"test": "month(datum.value) == 0", "value": "#131722"}, "value": "#3c3f47"},
            "labelFont": "Roboto",
            "labelFontSize": 21,
            "labelPadding": 14,
            "labelOverlap": false,
            "labelFlush": false,
            "domain": false,
            "ticks": false,
            "tickSize": 0,
            "grid": true,
            "gridColor": "#eff1f5",
            "gridWidth": 1.2
          }
        },
        "y": {
          "field": "v",
          "type": "quantitative",
          "title": null,
          "scale": {"domain": [1004.5, 1618.1], "nice": false, "zero": false},
          "axis": {
            "orient": "right",
            "values": [1025, 1050, 1075, 1100, 1125, 1150, 1175, 1200, 1225, 1250, 1275, 1300, 1325, 1350, 1375, 1400, 1425, 1450, 1475, 1500, 1525, 1550, 1575, 1600],
            "format": ",.2f",
            "labelExpr": "datum.value == 1600 ? '' : datum.label",
            "labelFontWeight": {"condition": {"test": "datum.value % 50 == 0", "value": "bold"}, "value": "normal"},
            "labelColor": {"condition": {"test": "datum.value % 50 == 0", "value": "#131722"}, "value": "#3c3f47"},
            "labelFont": "Roboto",
            "labelFontSize": 21,
            "labelPadding": 15,
            "labelAlign": "left",
            "labelOverlap": false,
            "domain": false,
            "ticks": false,
            "tickSize": 0,
            "grid": true,
            "gridColor": "#eff1f5",
            "gridWidth": 1.2
          }
        }
      }
    },
    {
      "data": {"values": [{}]},
      "mark": {"type": "rect", "fillOpacity": 0, "stroke": "#e0e3eb", "strokeWidth": 1.5},
      "encoding": {
        "x": {"datum": {"year": 2017, "month": 12, "date": 14}, "type": "temporal", "title": null},
        "x2": {"datum": {"year": 2027, "month": 10, "date": 11}},
        "y": {"datum": 1618.1, "type": "quantitative", "title": null},
        "y2": {"datum": 984}
      }
    },
    {
      "data": {"values": [{}]},
      "mark": {"type": "rule", "color": "#e0e3eb", "strokeWidth": 1.5},
      "encoding": {
        "x": {"datum": {"year": 2017, "month": 12, "date": 14}, "type": "temporal", "title": null},
        "x2": {"datum": {"year": 2027, "month": 10, "date": 11}},
        "y": {"datum": 1004.5, "type": "quantitative", "title": null}
      }
    },
    {
      "data": {"values": [{}]},
      "mark": {"type": "rule", "color": "#131722", "strokeWidth": 1.2, "strokeDash": [2, 3]},
      "encoding": {
        "y": {"datum": 1459.42, "type": "quantitative", "title": null}
      }
    },
    {
      "data": {"name": "trend"},
      "mark": {"type": "line", "color": "#2962ff", "strokeWidth": 4, "strokeCap": "round"},
      "encoding": {
        "x": {"field": "d", "type": "temporal", "title": null},
        "y": {"field": "v", "type": "quantitative", "title": null},
        "detail": {"field": "seg"}
      }
    },
    {
      "data": {"values": [{}]},
      "mark": {"type": "rect", "color": "#000000", "cornerRadius": 3},
      "encoding": {
        "x": {"datum": {"year": 2027, "month": 5, "date": 6}, "type": "temporal", "title": null},
        "x2": {"datum": {"year": 2027, "month": 10, "date": 3}},
        "y": {"datum": 1464.7, "type": "quantitative", "title": null},
        "y2": {"datum": 1454.1}
      }
    },
    {
      "data": {"values": [{"t": "1,459.42"}]},
      "mark": {"type": "text", "align": "left", "baseline": "middle", "color": "#ffffff", "font": "Roboto", "fontSize": 21},
      "encoding": {
        "x": {"datum": {"year": 2027, "month": 5, "date": 24}, "type": "temporal", "title": null},
        "y": {"datum": 1459.42, "type": "quantitative", "title": null},
        "text": {"field": "t"}
      }
    },
    {
      "data": {"values": [{}]},
      "mark": {"type": "rect", "fill": "#ffffff", "stroke": "#e0e3eb", "strokeWidth": 1.5, "cornerRadius": 7},
      "encoding": {
        "x": {"datum": {"year": 2027, "month": 5, "date": 11}, "type": "temporal", "title": null},
        "x2": {"datum": {"year": 2027, "month": 10, "date": 6}},
        "y": {"datum": 1616.3, "type": "quantitative", "title": null},
        "y2": {"datum": 1597.7}
      }
    },
    {
      "data": {"values": [{"t": "KRW"}]},
      "mark": {"type": "text", "align": "left", "baseline": "middle", "color": "#131722", "font": "Roboto", "fontSize": 20},
      "encoding": {
        "x": {"datum": {"year": 2027, "month": 6, "date": 2}, "type": "temporal", "title": null},
        "y": {"datum": 1607.2, "type": "quantitative", "title": null},
        "text": {"field": "t"}
      }
    },
    {
      "data": {"values": [{"t": "U.S. Dollar / South Korean · 1D · ICE\u00a0\u00a01,459.42\u00a0\u00a0−14.71 (−1.00%)"}]},
      "mark": {"type": "text", "align": "left", "baseline": "middle", "color": "#131722", "font": "Roboto", "fontSize": 20.3},
      "encoding": {
        "x": {"datum": {"year": 2018, "month": 1, "date": 1}, "type": "temporal", "title": null},
        "y": {"datum": 1607.7, "type": "quantitative", "title": null},
        "text": {"field": "t"}
      }
    },
    {
      "data": {"values": [{}]},
      "mark": {
        "type": "point",
        "filled": true,
        "color": "#131722",
        "opacity": 1,
        "size": 2401,
        "shape": "M-1,-0.53 L-0.3,-0.53 L-0.3,0.53 L-0.62,0.53 L-0.62,-0.2 L-1,-0.2 Z M-0.26,-0.33 A0.18,0.18 0 1,0 0.1,-0.33 A0.18,0.18 0 1,0 -0.26,-0.33 Z M0.3,-0.53 L1,-0.53 L0.4,0.53 L-0.02,0.53 Z"
      },
      "encoding": {
        "x": {"datum": {"year": 2018, "month": 1, "date": 22}, "type": "temporal", "title": null},
        "y": {"datum": 961.8, "type": "quantitative", "title": null}
      }
    },
    {
      "data": {"values": [{"t": "TradingView"}]},
      "mark": {"type": "text", "align": "left", "baseline": "middle", "color": "#131722", "font": "Roboto", "fontSize": 34, "fontWeight": "bold"},
      "encoding": {
        "x": {"datum": {"year": 2018, "month": 3, "date": 10}, "type": "temporal", "title": null},
        "y": {"datum": 961.8, "type": "quantitative", "title": null},
        "text": {"field": "t"}
      }
    }
  ]
}
